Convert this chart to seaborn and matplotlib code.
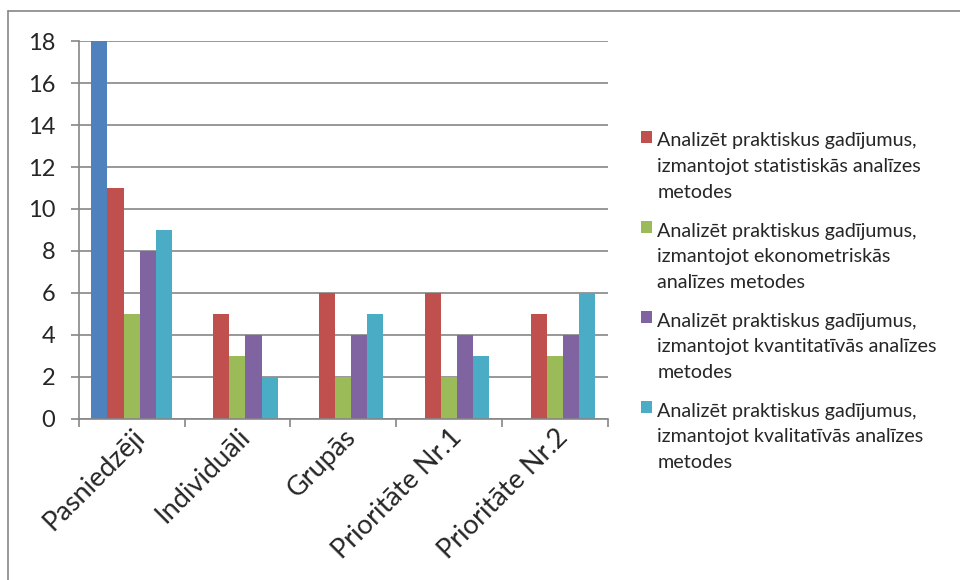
import matplotlib
matplotlib.use('Agg')
import matplotlib.pyplot as plt
from matplotlib.lines import Line2D
import numpy as np
import pandas as pd
import seaborn as sns

sns.set_theme(style='white')
plt.rcParams['font.family'] = ['Lato', 'DejaVu Sans']

categories = ['Pasniedzēji', 'Individuāli', 'Grupās', 'Prioritāte Nr.1', 'Prioritāte Nr.2']
series = [
    'Kopā',
    'Analizēt praktiskus gadījumus,\nizmantojot statistiskās analīzes\nmetodes',
    'Analizēt praktiskus gadījumus,\nizmantojot ekonometriskās\nanalīzes metodes',
    'Analizēt praktiskus gadījumus,\nizmantojot kvantitatīvās analīzes\nmetodes',
    'Analizēt praktiskus gadījumus,\nizmantojot kvalitatīvās analīzes\nmetodes',
]
blue_vals = [18, 0, 0, 0, 0]
red_vals = [11, 5, 6, 6, 5]
green_vals = [5, 3, 2, 2, 3]
purple_vals = [8, 4, 4, 4, 4]
cyan_vals = [9, 2, 5, 3, 6]
colors = ['#4f81bd', '#c0504d', '#9bbb59', '#8064a2', '#4bacc6']

rows = []
for name, vals in zip(series, [blue_vals, red_vals, green_vals, purple_vals, cyan_vals]):
    for c, v in zip(categories, vals):
        rows.append({'cat': c, 'val': v, 'series': name})
df = pd.DataFrame(rows)

fig = plt.figure(figsize=(9.6, 5.8), dpi=100)
ax = fig.add_axes([0.082, 0.278, 0.551, 0.651])

sns.barplot(data=df, x='cat', y='val', hue='series', palette=colors,
            width=0.76, saturation=1, ax=ax, linewidth=0, errorbar=None)

ax.set_ylim(0, 18)
ax.set_yticks(np.arange(0, 19, 2))
ax.set_xlim(-0.5, len(categories) - 0.5)
ax.yaxis.grid(True, color='#868686', linewidth=1.2)
ax.set_axisbelow(True)
ax.set_xlabel('')
ax.set_ylabel('')
for s in ['top', 'right']:
    ax.spines[s].set_visible(False)
for s in ['left', 'bottom']:
    ax.spines[s].set_color('#868686')
    ax.spines[s].set_linewidth(1.2)

ax.tick_params(axis='y', labelsize=17, length=6, width=1.2, color='#868686', left=True, pad=11)
ax.tick_params(axis='x', which='major', length=0, labelsize=19.5, pad=4)
ax.set_xticks(np.arange(-0.5, len(categories), 1), minor=True)
ax.tick_params(axis='x', which='minor', length=6, color='#868686', width=1.2, bottom=True)
for lbl in ax.get_xticklabels():
    lbl.set_rotation(45)
    lbl.set_ha('right')
    lbl.set_rotation_mode('anchor')

handles, labels = ax.get_legend_handles_labels()
ax.legend(handles[1:], labels[1:], loc='center left', bbox_to_anchor=(1.03, 0.31),
          frameon=False, fontsize=14.2, handlelength=0.52, handleheight=0.52,
          handletextpad=0.3, labelspacing=1.1, alignment='left')
leg = ax.get_legend()
for t in leg.get_texts():
    t.set_linespacing(1.62)
# put the colour square beside the first line of each entry
for h in leg.legend_handles:
    h.set_y(h.get_y() + 21.5)

# outer chart frame (top and left edges only visible)
fig.add_artist(Line2D([0.0083, 1.0], [1 - 11 / 580, 1 - 11 / 580], transform=fig.transFigure,
                      color='#868686', linewidth=1.2))
fig.add_artist(Line2D([0.0083, 0.0083], [0.0, 1 - 11 / 580], transform=fig.transFigure,
                      color='#868686', linewidth=1.2))

fig.savefig('out.png', dpi=100)
